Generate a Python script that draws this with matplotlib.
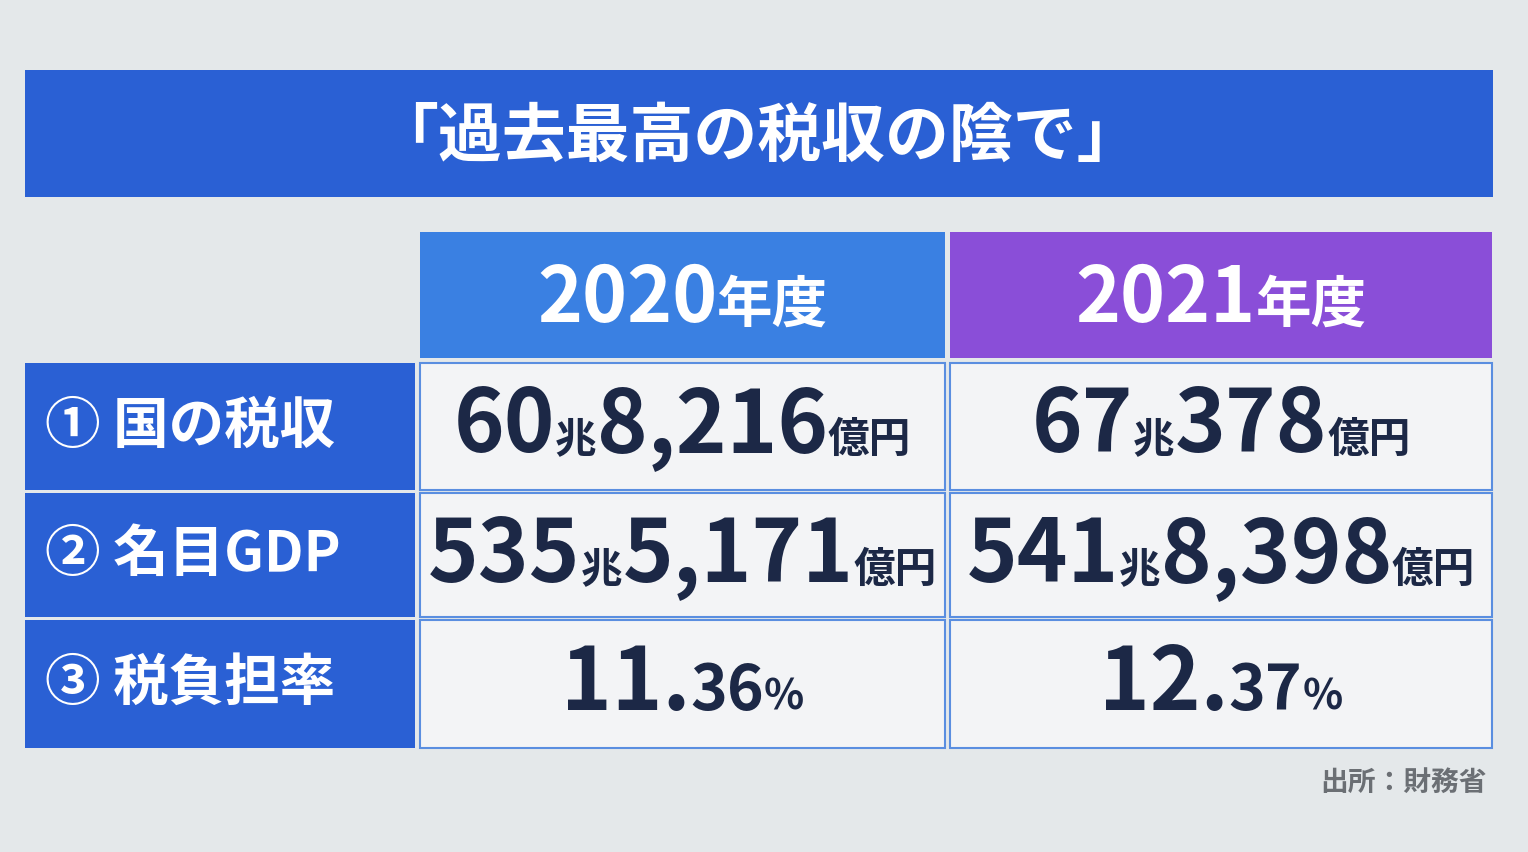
import matplotlib
matplotlib.use("Agg")
import matplotlib.pyplot as plt
from matplotlib.patches import Rectangle

plt.rcParams['font.family'] = ['Noto Sans CJK JP', 'DejaVu Sans']

title = "「過去最高の税収の陰で」"
years = ["2020", "2021"]
row_labels = ["① 国の税収", "② 名目GDP", "③ 税負担率"]
tax_cho = ["60", "67"]; tax_oku = ["8,216", "378"]
gdp_cho = ["535", "541"]; gdp_oku = ["5,171", "8,398"]
rate_int = ["11.", "12."]; rate_dec = ["36", "37"]
source = "出所：財務省"

W, H = 1528, 852
fig = plt.figure(figsize=(W/100, H/100), dpi=100)
ax = fig.add_axes([0, 0, 1, 1])
ax.set_xlim(0, W); ax.set_ylim(H, 0); ax.axis('off')
fig.patch.set_facecolor('#e4e8ea')
r = fig.canvas.get_renderer()

def rect(x0, y0, x1, y1, fc, ec='none', lw=0):
    ax.add_patch(Rectangle((x0, y0), x1-x0, y1-y0, fc=fc, ec=ec, lw=lw))

def mixed(segs, cx, by, color):
    texts = []
    total = 0
    for s, fs in segs:
        t = ax.text(0, by, s, fontsize=fs, fontweight='bold', color=color, va='baseline', ha='left')
        w = t.get_window_extent(r).width
        texts.append((t, w)); total += w
    x = cx - total/2
    for t, w in texts:
        t.set_x(x); x += w

blue = '#2a60d4'
rect(25, 70, 1493, 197, blue)
ax.text(757, 137, title, fontsize=46, fontweight='bold', color='white', ha='center', va='center')

cols = [(420, 945, '#3a80e2'), (950, 1492, '#8a4ed8')]
for (x0, x1, c), y in zip(cols, years):
    rect(x0, 232, x1, 358, c)
    mixed([(y, 55), ("年度", 40)], (x0+x1)/2, 322, 'white')

rows = [(363, 490), (493, 617), (620, 748)]
for (y0, y1), lab in zip(rows, row_labels):
    rect(25, y0, 415, y1, blue)
    ax.text(45, (y0+y1)/2, lab, fontsize=40, fontweight='bold', color='white', ha='left', va='center')
    for x0, x1, c in cols:
        rect(x0, y0, x1, y1, '#f3f4f6', ec='#5a8ee0', lw=1.5)

navy = '#1c2846'
for i, (x0, x1, c) in enumerate(cols):
    cx = (x0+x1)/2
    mixed([(tax_cho[i], 62), ("兆", 30), (tax_oku[i], 62), ("億円", 30)], cx, 452, navy)
    mixed([(gdp_cho[i], 62), ("兆", 30), (gdp_oku[i], 62), ("億円", 30)], cx, 582, navy)
    mixed([(rate_int[i], 62), (rate_dec[i], 45), ("%", 30)], cx, 710, navy)

ax.text(1487, 783, source, fontsize=20, fontweight='bold', color='#6b6f74', ha='right', va='center')
fig.savefig('out.png', dpi=100)
